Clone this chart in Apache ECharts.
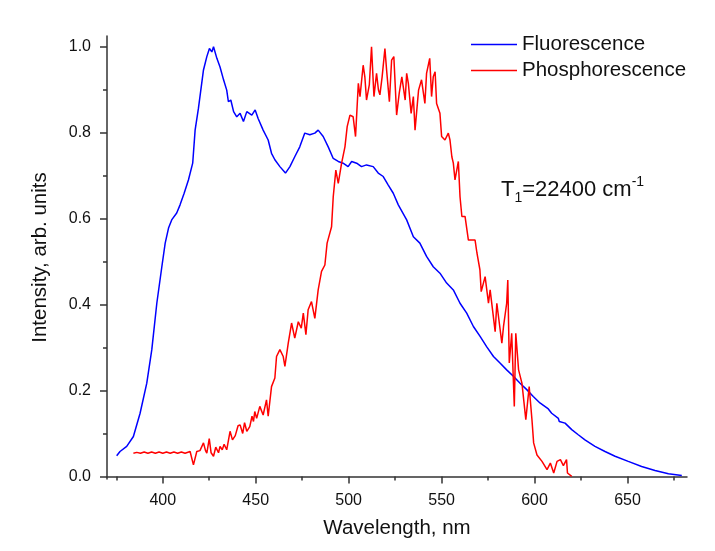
<!DOCTYPE html>
<html>
<head>
<meta charset="utf-8">
<script src="https://cdn.jsdelivr.net/npm/echarts@6/dist/echarts.min.js"></script>
<style>
  html, body { margin: 0; padding: 0; background: #fff; }
  #chart { width: 715px; height: 551px; }
</style>
</head>
<body>
<div id="chart"></div>
<script>
// values
const fluoWavelength = [375.2, 377.0, 380.6, 384.2, 387.8, 391.4, 394.1, 396.8, 399.5, 401.3, 403.1, 404.8, 407.5, 409.3, 411.5, 413.8, 416.1, 417.4, 419.2, 421.9, 423.7, 425.1, 426.4, 427.3, 429.1, 430.8, 432.7, 434.4, 435.3, 436.6, 438.1, 439.8, 441.6, 443.4, 445.2, 447.9, 449.7, 451.3, 454.0, 456.7, 458.5, 460.3, 463.0, 466.0, 468.4, 471.0, 473.7, 476.4, 479.1, 481.8, 483.6, 486.3, 489.0, 491.7, 494.4, 497.0, 499.7, 501.6, 504.3, 506.9, 509.6, 513.2, 515.9, 518.6, 521.3, 524.0, 526.7, 531.2, 534.8, 538.3, 541.9, 545.5, 549.1, 552.7, 556.3, 559.9, 563.5, 567.1, 570.7, 574.2, 577.9, 581.4, 585.0, 588.6, 592.2, 595.8, 599.3, 602.9, 607.4, 609.2, 612.8, 613.3, 616.4, 620.0, 623.5, 627.1, 632.5, 637.9, 643.3, 650.4, 657.6, 664.8, 672.0, 679.2];
const fluoIntensity = [0.048, 0.058, 0.070, 0.093, 0.147, 0.217, 0.295, 0.403, 0.488, 0.543, 0.578, 0.597, 0.613, 0.632, 0.659, 0.690, 0.729, 0.806, 0.857, 0.946, 0.977, 0.996, 0.988, 1.000, 0.973, 0.953, 0.923, 0.899, 0.872, 0.876, 0.849, 0.837, 0.845, 0.826, 0.849, 0.841, 0.853, 0.833, 0.806, 0.783, 0.752, 0.737, 0.721, 0.706, 0.721, 0.744, 0.767, 0.799, 0.795, 0.799, 0.806, 0.791, 0.767, 0.740, 0.733, 0.729, 0.721, 0.733, 0.729, 0.721, 0.725, 0.721, 0.706, 0.698, 0.678, 0.659, 0.632, 0.597, 0.558, 0.543, 0.512, 0.488, 0.473, 0.450, 0.434, 0.403, 0.380, 0.349, 0.326, 0.302, 0.279, 0.264, 0.248, 0.233, 0.217, 0.202, 0.186, 0.171, 0.157, 0.147, 0.135, 0.128, 0.124, 0.109, 0.097, 0.085, 0.070, 0.058, 0.047, 0.035, 0.023, 0.014, 0.006, 0.002];

const phosWavelength = [384.2, 386, 388, 390, 392, 394, 396, 398, 400, 402, 404, 406, 408, 410, 412, 414.7, 416.5, 418.3, 420, 421.9, 423, 423.7, 425, 426, 427.3, 428.5, 430, 430.8, 432, 433, 434.4, 436.2, 437.5, 439, 440.5, 441.6, 443, 444, 445.2, 446.8, 448, 448.8, 449.5, 450.5, 452.2, 454.0, 455.8, 456.7, 458.5, 460.3, 461.2, 463.0, 464.8, 465.7, 467.5, 469.3, 471.0, 472.9, 474.5, 475.6, 477.0, 478.2, 480.0, 481.8, 483.6, 485.4, 487.2, 488.4, 490.8, 491.7, 493.1, 494.4, 496.2, 498.0, 499.2, 500.7, 502.4, 503.7, 505.2, 506.1, 507.8, 508.7, 509.6, 511.1, 512.3, 513.6, 515.0, 516.0, 516.8, 518, 519.5, 520.4, 521.9, 523.1, 524.3, 525.8, 527.2, 528.6, 530.4, 531.2, 532.1, 533.6, 534.8, 535.7, 537.6, 539.2, 541.0, 541.9, 543.6, 544.6, 545.5, 546.5, 547.3, 549.1, 550.0, 551.8, 553.6, 554.5, 555.5, 556.3, 557.2, 559.0, 559.9, 560.9, 562.6, 564.4, 566.3, 568.0, 569.0, 570.6, 571.3, 573.4, 575.2, 576.1, 578.8, 579.7, 582.4, 583.3, 585.0, 585.6, 586.4, 587.7, 589.1, 589.9, 591.4, 593.2, 595.3, 597.1, 598.6, 599.5, 601.3, 604.0, 606.7, 608.5, 610.3, 612.1, 613.9, 615.5, 617.2, 617.7, 620.0];
const phosIntensity = [0.054, 0.056, 0.054, 0.057, 0.054, 0.057, 0.054, 0.057, 0.054, 0.057, 0.054, 0.057, 0.054, 0.057, 0.054, 0.058, 0.027, 0.058, 0.060, 0.078, 0.060, 0.054, 0.088, 0.055, 0.047, 0.068, 0.055, 0.070, 0.062, 0.075, 0.062, 0.105, 0.085, 0.095, 0.118, 0.120, 0.100, 0.125, 0.105, 0.116, 0.140, 0.128, 0.151, 0.135, 0.163, 0.143, 0.178, 0.140, 0.209, 0.229, 0.279, 0.295, 0.279, 0.256, 0.310, 0.357, 0.322, 0.360, 0.345, 0.380, 0.330, 0.388, 0.407, 0.368, 0.434, 0.477, 0.492, 0.543, 0.581, 0.651, 0.713, 0.682, 0.729, 0.767, 0.814, 0.841, 0.837, 0.791, 0.915, 0.884, 0.957, 0.930, 0.876, 0.911, 1.000, 0.884, 0.938, 0.900, 0.888, 0.930, 0.996, 0.946, 0.872, 0.969, 0.977, 0.841, 0.892, 0.930, 0.876, 0.938, 0.915, 0.845, 0.884, 0.806, 0.899, 0.923, 0.868, 0.938, 0.973, 0.884, 0.930, 0.942, 0.868, 0.845, 0.791, 0.783, 0.799, 0.783, 0.744, 0.729, 0.690, 0.733, 0.651, 0.605, 0.605, 0.550, 0.550, 0.550, 0.520, 0.481, 0.430, 0.465, 0.403, 0.434, 0.337, 0.403, 0.310, 0.349, 0.403, 0.457, 0.264, 0.333, 0.163, 0.333, 0.248, 0.217, 0.132, 0.209, 0.132, 0.078, 0.050, 0.035, 0.016, 0.031, 0.008, 0.035, 0.039, 0.025, 0.039, 0.008, 0.000];

const xMajorTicks = [400, 450, 500, 550, 600, 650];
const xMinorTicks = [375, 425, 475, 525, 575, 625, 675];
const yMajorTicks = [0, 0.2, 0.4, 0.6, 0.8, 1.0];
const yMinorTicks = [0.1, 0.3, 0.5, 0.7, 0.9];

const fontFamily = 'Arial, "Liberation Sans", sans-serif';
const axisColor = '#333';
const textColor = '#111';
const xRange = { min: 370, max: 682 };
const yRange = { min: -0.006, max: 1.025 };

const zip = (xs, ys) => xs.map((x, i) => [x, ys[i]]);

const chart = echarts.init(document.getElementById('chart'), null, { renderer: 'canvas' });

chart.setOption({
    animation: false,
    backgroundColor: '#fff',
    textStyle: { fontFamily: fontFamily },
    grid: { left: 107, right: 28, top: 36, bottom: 72 },
    legend: {
        orient: 'vertical',
        left: 471,
        top: 34,
        padding: 0,
        icon: 'rect',
        itemWidth: 46,
        itemHeight: 1.5,
        itemGap: 5,
        textStyle: { fontSize: 20.5, color: textColor, fontFamily: fontFamily },
        data: ['Fluorescence', 'Phosphorescence'],
    },
    xAxis: [
        {
            type: 'value',
            min: xRange.min,
            max: xRange.max,
            name: 'Wavelength, nm',
            nameLocation: 'middle',
            nameGap: 39,
            nameTextStyle: { fontSize: 20.5, color: textColor, fontFamily: fontFamily },
            axisLine: { show: true, lineStyle: { color: axisColor, width: 1.5 } },
            axisTick: { show: true, inside: false, length: 7, customValues: xMajorTicks, lineStyle: { color: axisColor, width: 1.5 } },
            axisLabel: { customValues: xMajorTicks, margin: 14, fontSize: 16, color: textColor, fontFamily: fontFamily },
            splitLine: { show: false },
        },
        {
            type: 'value',
            position: 'bottom',
            min: xRange.min,
            max: xRange.max,
            axisLine: { show: false },
            axisTick: { show: true, length: 4, customValues: xMinorTicks, lineStyle: { color: axisColor, width: 1.5 } },
            axisLabel: { show: false },
            splitLine: { show: false },
        },
    ],
    yAxis: [
        {
            type: 'value',
            min: yRange.min,
            max: yRange.max,
            name: 'Intensity, arb. units',
            nameLocation: 'middle',
            nameGap: 56,
            nameTextStyle: { fontSize: 20.5, color: textColor, fontFamily: fontFamily },
            axisLine: { show: true, lineStyle: { color: axisColor, width: 1.5 } },
            axisTick: { show: true, length: 7, customValues: yMajorTicks, lineStyle: { color: axisColor, width: 1.5 } },
            axisLabel: {
                customValues: yMajorTicks,
                margin: 16,
                fontSize: 16,
                color: textColor,
                fontFamily: fontFamily,
                formatter: v => v.toFixed(1),
            },
            splitLine: { show: false },
        },
        {
            type: 'value',
            position: 'left',
            min: yRange.min,
            max: yRange.max,
            axisLine: { show: false },
            axisTick: { show: true, length: 4, customValues: yMinorTicks, lineStyle: { color: axisColor, width: 1.5 } },
            axisLabel: { show: false },
            splitLine: { show: false },
        },
    ],
    graphic: [
        {
            type: 'text',
            left: 501,
            top: 175,
            style: {
                text: '{a|T}{b|1}{a|=22400 cm}{c|-1}',
                fill: textColor,
                rich: {
                    a: { fontSize: 22, lineHeight: 30, verticalAlign: 'middle', fontFamily: fontFamily, fill: textColor },
                    b: { fontSize: 14, lineHeight: 14, verticalAlign: 'bottom', fontFamily: fontFamily, fill: textColor },
                    c: { fontSize: 14, lineHeight: 18, verticalAlign: 'top', fontFamily: fontFamily, fill: textColor },
                },
            },
        },
    ],
    series: [
        {
            name: 'Fluorescence',
            type: 'line',
            data: zip(fluoWavelength, fluoIntensity),
            symbol: 'none',
            lineStyle: { color: '#0000ff', width: 1.5 },
            itemStyle: { color: '#0000ff' },
        },
        {
            name: 'Phosphorescence',
            type: 'line',
            data: zip(phosWavelength, phosIntensity),
            symbol: 'none',
            lineStyle: { color: '#ff0000', width: 1.5 },
            itemStyle: { color: '#ff0000' },
        },
    ],
});
</script>
</body>
</html>
